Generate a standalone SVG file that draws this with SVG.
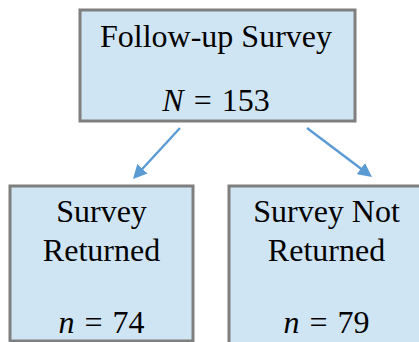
<svg xmlns="http://www.w3.org/2000/svg" width="419" height="342" viewBox="0 0 419 342">
<defs>
<style>
.box{fill:#d0e5f3;stroke:#7f7f7f;stroke-width:3}
.t{font-family:"Liberation Serif","Times New Roman",serif;font-size:32px;fill:#000;text-anchor:middle}
.i{font-style:italic}
.c{stroke:#5b9bd5;stroke-width:2.4;fill:none;marker-end:url(#ah)}
</style>
<marker id="ah" viewBox="0 0 14 14" refX="2" refY="7" markerWidth="14" markerHeight="14" markerUnits="userSpaceOnUse" orient="auto">
<path d="M0,0 L14,7 L0,14 z" fill="#5b9bd5"/>
</marker>
</defs>
<rect width="419" height="342" fill="#fff"/>
<g id="connectors">
<line class="c" x1="180" y1="128" x2="141.1" y2="170.2"/>
<line class="c" x1="307" y1="128" x2="362.4" y2="169.8"/>
</g>
<g id="followup">
<rect class="box" x="80" y="10" width="275" height="111"/>
<text class="t" x="216" y="47">Follow-up Survey</text>
<text class="t" x="216" y="111"><tspan class="i">N</tspan><tspan dx="2"> = </tspan><tspan dx="2">153</tspan></text>
</g>
<g id="returned">
<rect class="box" x="10" y="186" width="183" height="155"/>
<text class="t" x="101.5" y="222">Survey</text>
<text class="t" x="101.5" y="261">Returned</text>
<text class="t" x="101.5" y="333"><tspan class="i">n</tspan><tspan dx="2"> = </tspan><tspan dx="2">74</tspan></text>
</g>
<g id="notreturned">
<rect class="box" x="229" y="186" width="196" height="160"/>
<text class="t" x="326.5" y="222">Survey Not</text>
<text class="t" x="326.5" y="261">Returned</text>
<text class="t" x="326.5" y="333"><tspan class="i">n</tspan><tspan dx="2"> = </tspan><tspan dx="2">79</tspan></text>
</g>
</svg>
